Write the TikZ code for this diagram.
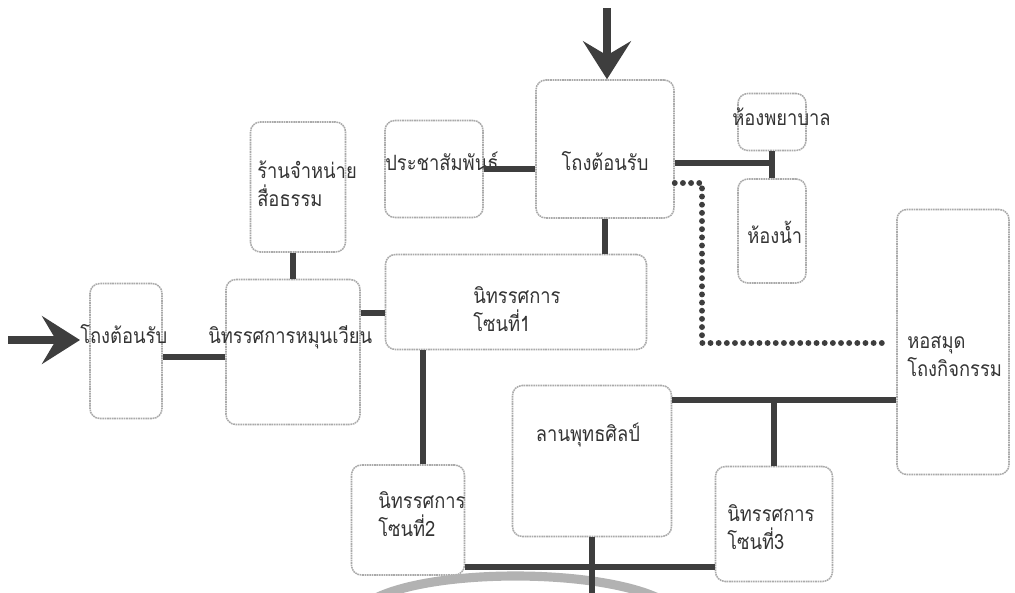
\documentclass[tikz,border=0pt]{standalone}
\usepackage{fontspec}
\newfontfamily\thaifont[Script=Thai,FakeStretch=0.87]{Loma}
\usetikzlibrary{arrows.meta,calc}
\definecolor{ink}{RGB}{52,52,52}
\definecolor{roomline}{RGB}{170,170,170}
\definecolor{pathgray}{RGB}{62,62,62}
\definecolor{arcgray}{RGB}{178,178,178}

\begin{document}
\begin{tikzpicture}[
  x=0.025cm,y=-0.025cm,
  line join=round,
  room/.style 2 args={draw=roomline,line width=1.1pt,dash pattern=on 1.2pt off .5pt,
    rounded corners=7pt,minimum width=#1*0.025cm,minimum height=#2*0.025cm,inner sep=0pt},
  txt/.style={font=\thaifont\fontsize{15}{20}\selectfont,text=ink,align=left,inner sep=0pt},
  link/.style={draw=pathgray,line width=3.6pt},
  walk/.style={draw=pathgray,line width=4.2pt,line cap=round,dash pattern=on 0pt off 5.8pt},
  entry/.style={draw=pathgray,line width=5pt,
    -{Stealth[length=27pt,width=34pt,inset=10pt]}}
]
\useasboundingbox (0,0) rectangle (1015,593);

% rooms
\node[room={72}{135}]  (gateL)  at (126,351) {};
\node[room={134}{145}] (rotate) at (293,352) {};
\node[room={95}{130}]  (shop)   at (298,187) {};
\node[room={98}{97}]   (pr)     at (434,169) {};
\node[room={138}{138}] (lobby)  at (605,149) {};
\node[room={68}{57}]   (nurse)  at (772,122) {};
\node[room={68}{104}]  (wc)     at (772,231) {};
\node[room={261}{95}]  (zone1)  at (516,302) {};
\node[room={112}{265}] (lib)    at (953,342) {};
\node[room={159}{151}] (court)  at (592,461) {};
\node[room={113}{110}] (zone2)  at (408,520) {};
\node[room={117}{115}] (zone3)  at (774,524) {};

% labels
\node[txt,anchor=base west] (gateLtxt)  at (80,343)  {โถงต้อนรับ};
\node[txt,anchor=base west] (rotatetxt) at (208,343) {นิทรรศการหมุนเวียน};
\node[txt,anchor=west]      (shoptxt)   at (257,184) {ร้านจำหน่าย\\สื่อธรรม};
\node[txt,anchor=base west] (prtxt)     at (385,170) {ประชาสัมพันธ์};
\node[txt,anchor=base]      (lobbytxt)  at (605,170) {โถงต้อนรับ};
\node[txt,anchor=base west] (nursetxt)  at (732,125) {ห้องพยาบาล};
\node[txt,anchor=base west] (wctxt)     at (747,243) {ห้องน้ำ};
\node[txt,anchor=west]      (zone1txt)  at (473,309) {นิทรรศการ\\โซนที่1};
\node[txt,anchor=west]      (libtxt)    at (907,356) {หอสมุด\\โถงกิจกรรม};
\node[txt,anchor=base]      (courttxt)  at (588,441) {ลานพุทธศิลป์};
\node[txt,anchor=west]      (zone2txt)  at (378,514) {นิทรรศการ\\โซนที่2};
\node[txt,anchor=west]      (zone3txt)  at (727,527) {นิทรรศการ\\โซนที่3};

% gray arc at the foot
\draw[arcgray,line width=6.5pt] (372,600) .. controls (430,568) and (600,568) .. (662,600);

% entrances
\coordinate (inTop)  at (607,8);
\coordinate (inLeft) at (8,340);
\draw[entry] (inTop) -- (inTop |- lobby.north);
\draw[entry] (inLeft) -- (inLeft -| gateLtxt.west);

% corridors
\draw[link] (gateL.east |- 0,357) -- (rotate.west |- 0,357);
\draw[link] (rotate.north) -- (rotate.north |- shop.south);
\draw[link] (rotate.east |- 0,313) -- (zone1.west |- 0,313);
\draw[link] (pr.east) -- (pr.east -| lobby.west);
\draw[link] (lobby.south) -- (lobby.south |- zone1.north);
\draw[link] (lobby.east |- 0,163) -- (nurse.south |- 0,163);
\draw[link] (nurse.south) -- (wc.north);
\draw[link] (zone2.north -| 423,0) -- (zone1.south -| 423,0);
\coordinate (tee3) at (zone3.north |- 0,400);
\draw[link] (court.east |- tee3) -- (lib.west |- tee3);
\draw[link] (tee3) -- (zone3.north);
\draw[link] (zone2.east |- 0,567) -- (zone3.west |- 0,567);
\coordinate (exitS) at (court.south |- 0,596);
\draw[link] (court.south) -- (exitS);

% dotted walk to the library
\coordinate (bend) at (702,343);
\draw[walk] (lobby.east |- 0,183) -| (bend) -- ([xshift=-6pt]lib.west |- bend);

\end{tikzpicture}
\end{document}
